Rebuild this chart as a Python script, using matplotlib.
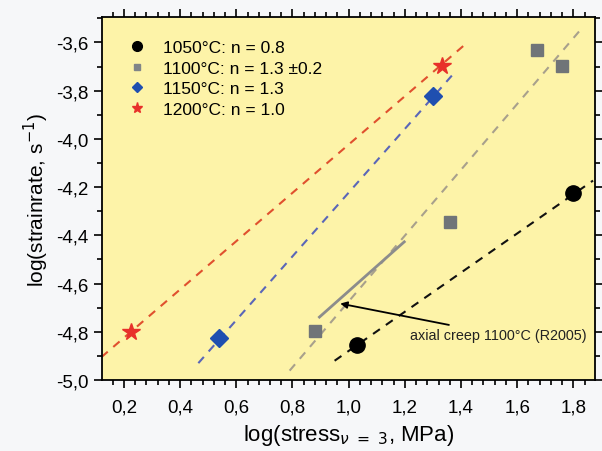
import matplotlib
matplotlib.use('Agg')
import matplotlib.pyplot as plt
from matplotlib.ticker import MultipleLocator

plt.rcParams['font.family'] = ['Liberation Sans', 'DejaVu Sans']

# measured creep points, log10 stress (MPa) vs log10 strain rate (1/s)
x_1050 = [1.03, 1.80]
y_1050 = [-4.855, -4.225]
x_1100 = [0.88, 1.36, 1.67, 1.76]
y_1100 = [-4.798, -4.343, -3.632, -3.696]
x_1150 = [0.54, 1.30]
y_1150 = [-4.826, -3.823]
x_1200 = [0.225, 1.333]
y_1200 = [-4.80, -3.696]

# fitted power-law lines (start/end)
fit_1050_x = [0.95, 1.87]
fit_1050_y = [-4.92, -4.173]
fit_1100_x = [0.79, 1.82]
fit_1100_y = [-4.961, -3.555]
fit_1150_x = [0.465, 1.38]
fit_1150_y = [-4.93, -3.721]
fit_1200_x = [0.12, 1.423]
fit_1200_y = [-4.905, -3.60]

# axial creep reference (R2005)
axial_x = [0.896, 1.198]
axial_y = [-4.739, -4.427]

labels = ['1050°C: n = 0.8', '1100°C: n = 1.3 ±0.2',
          '1150°C: n = 1.3', '1200°C: n = 1.0']

fig = plt.figure(figsize=(6.02, 4.52), dpi=100, facecolor='#f6f7f9')
ax = fig.add_axes([0.1694, 0.157, 0.8190, 0.8025])
ax.set_facecolor('#fdf3a8')

dash = (4, 3.5)
ax.plot(fit_1200_x, fit_1200_y, color='#e0502e', lw=1.5, dashes=dash)
ax.plot(fit_1150_x, fit_1150_y, color='#5a66b8', lw=1.5, dashes=dash)
ax.plot(fit_1100_x, fit_1100_y, color='#a8a08c', lw=1.5, dashes=dash)
ax.plot(fit_1050_x, fit_1050_y, color='#111111', lw=1.5, dashes=dash)
ax.plot(axial_x, axial_y, color='#8c8c8c', lw=2)

ax.plot(x_1050, y_1050, 'o', color='black', ms=11, ls='none')
ax.plot(x_1100, y_1100, 's', color='#707478', ms=9, ls='none')
ax.plot(x_1150, y_1150, 'D', color='#1f4fb0', ms=9, ls='none')
ax.plot(x_1200, y_1200, '*', color='#e8302a', ms=13, ls='none')

# legend entries with smaller markers
h = [plt.Line2D([], [], marker='o', color='black', ms=7, ls='none'),
     plt.Line2D([], [], marker='s', color='#808488', ms=5, ls='none'),
     plt.Line2D([], [], marker='D', color='#1f4fb0', ms=5.5, ls='none'),
     plt.Line2D([], [], marker='*', color='#e8302a', ms=8, ls='none')]
ax.legend(h, labels, loc='upper left', frameon=False, fontsize=12.5,
          handletextpad=0.45, labelspacing=0.3, borderaxespad=0.3,
          bbox_to_anchor=(0.012, 0.97))

ax.annotate('axial creep 1100°C (R2005)', xy=(0.97, -4.683), xytext=(1.22, -4.812),
            fontsize=10.4, color='#222222', va='center', ha='left',
            arrowprops=dict(arrowstyle='-|>', color='black', lw=1.3,
                            shrinkA=0, shrinkB=0, mutation_scale=10))

ax.set_xlim(0.122, 1.877)
ax.set_ylim(-5.0, -3.496)
ax.xaxis.set_major_locator(MultipleLocator(0.2))
ax.xaxis.set_minor_locator(MultipleLocator(0.04))
ax.yaxis.set_major_locator(MultipleLocator(0.2))
ax.yaxis.set_minor_locator(MultipleLocator(0.1))
fmt = lambda v, p: f'{v:.1f}'.replace('.', ',')
ax.xaxis.set_major_formatter(plt.FuncFormatter(fmt))
ax.yaxis.set_major_formatter(plt.FuncFormatter(fmt))

ax.tick_params(which='both', direction='out', top=True, right=True,
               labeltop=False, labelright=False, labelsize=13.5, width=1.2)
ax.tick_params(which='major', length=6)
ax.tick_params(which='minor', length=3.5)
ax.tick_params(axis='x', pad=7)
for s in ax.spines.values():
    s.set_linewidth(1.3)

ax.set_xlabel(r'log(stress$_{\nu\ =\ 3}$, MPa)', fontsize=16, labelpad=5)
ax.set_ylabel(r'log(strainrate, s$^{-1}$)', fontsize=15, labelpad=4)

fig.savefig('out.png', dpi=100, facecolor=fig.get_facecolor())
